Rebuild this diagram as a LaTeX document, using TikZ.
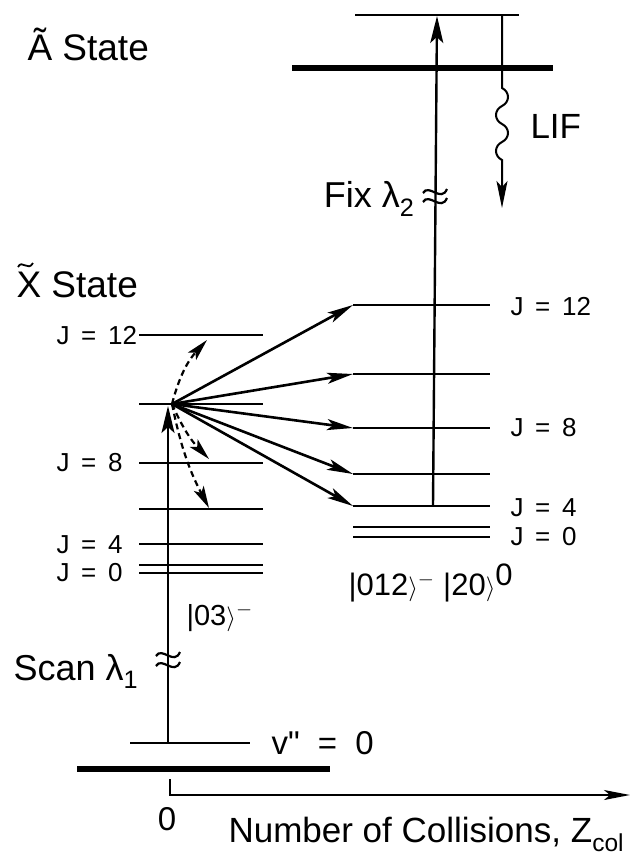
\documentclass[tikz,border=0pt]{standalone}
\usepackage{fontspec}
\setmainfont{Liberation Sans}
\usetikzlibrary{arrows.meta}
\newcommand\jfont{\fontsize{26}{28}\selectfont\spaceskip=.45em\relax}
\newcommand\bigfont{\fontsize{37}{40}\selectfont}
\newcommand\ketfont{\fontsize{31}{34}\selectfont}

\begin{document}
\begin{tikzpicture}[x=1pt,y=-1pt,
    level/.style={line width=2.4pt},
    thicklevel/.style={line width=6pt},
    uparr/.style={line width=2.4pt,-{Stealth[length=27pt,width=13pt,inset=6pt]}},
    colarr/.style={line width=2.6pt,-{Stealth[length=26pt,width=11pt,inset=6pt]}},
    dasharr/.style={line width=2.2pt,dash pattern=on 6pt off 4pt,
                    -{Stealth[length=22pt,width=11pt,inset=5pt]}},
    brk/.style={line width=2.2pt},
    jlab/.style={anchor=west,font=\jfont},
    biglab/.style={anchor=base west,font=\bigfont},
    ketlab/.style={anchor=base west,font=\ketfont},
  ]
  \useasboundingbox (0,0) rectangle (634,865);

  % A state
  \draw[level] (355,15) -- (519,15);
  \draw[thicklevel] (292,68) -- (553,68);
  \node[biglab] (Astate) at (24,60) {Ã State};

  % X state, left ladder
  \node[biglab] (Xstate) at (13,297) {X State};
  \draw[line width=1.8pt] (18,267) .. controls (22,259) and (28,272) .. (33,263);
  \foreach \n/\y in {12/335,10/404,8/463,6/509,4/544,2/565,0/573}{
    \draw[level] (139,\y) -- (263,\y);
    \coordinate (L\n) at (172,\y);
  }
  \node[jlab] (jl12) at (53,336) {J = 12};
  \node[jlab] (jl8)  at (53,463) {J = 8};
  \node[jlab] (jl4)  at (53,545) {J = 4};
  \node[jlab] (jl0)  at (53,573) {J = 0};

  % right ladder after collisions
  \foreach \n/\y in {12/305,10/374,8/428,6/474,4/506,2/527,0/537}{
    \draw[level] (353,\y) -- (490,\y);
    \coordinate (R\n) at (353,\y);
  }
  \node[jlab] (jr12) at (507,307) {J = 12};
  \node[jlab] (jr8)  at (507,428) {J = 8};
  \node[jlab] (jr4)  at (507,508) {J = 4};
  \node[jlab] (jr0)  at (507,537) {J = 0};

  % collisional transfer
  \foreach \n in {12,10,8,6,4}
    \draw[colarr] (L10) -- (R\n);
  \coordinate (dU)  at (207,340);
  \coordinate (dD1) at (209,459);
  \coordinate (dD2) at (209,508);
  \draw[dasharr] (L10) to[bend left=14] (dU);
  \draw[dasharr] (L10) to[bend right=10] (dD1);
  \draw[dasharr] (L10) to[bend right=8] (dD2);

  % scan laser
  \draw[level] (130,743) -- (250,743);
  \draw[thicklevel] (77,769) -- (330,769);
  \coordinate (v0) at (168,743);
  \coordinate (scanTip) at (168,406);
  \draw[uparr] (v0) -- (scanTip);
  \draw[brk] (156,656) .. controls (162,646) and (174,666) .. (180,652);
  \draw[brk] (156,666) .. controls (162,656) and (174,676) .. (180,662);
  \node[biglab,font=\fontsize{36}{40}\selectfont] (scan) at (10,680) {Scan λ\textsubscript{1}};
  \node[ketlab,font=\fontsize{29}{32}\selectfont] (ket03) at (183,625) {|03$\rangle^-$};
  \node[biglab] (vlab) at (268,754)
    {\fontsize{33}{36}\selectfont\spaceskip=.55em v\textquotedbl{} = 0};

  % probe laser
  \coordinate (fixFoot) at (433,506);
  \coordinate (fixTip) at (437,16);
  \draw[uparr] (fixFoot) -- (fixTip);
  \draw[brk] (423,193) .. controls (429,183) and (441,203) .. (447,189);
  \draw[brk] (423,202) .. controls (429,192) and (441,212) .. (447,198);
  \node[biglab,anchor=base east,font=\fontsize{36}{40}\selectfont] (fix) at (418,207) {Fix λ\textsubscript{2}};
  \node[ketlab] (ket012) at (345,595) {|012$\rangle^-$ |20$\rangle^{\mbox{0}}$};

  % fluorescence
  \coordinate (lifTop) at (502,15);
  \coordinate (lifEnd) at (502,208);
  \draw[line width=2pt,-{Stealth[length=27pt,width=11pt,inset=6pt]}]
    (lifTop) -- (502,88)
    .. controls (510,92) and (510,102) .. (502,106)
    .. controls (494,110) and (494,120) .. (502,124)
    .. controls (510,128) and (510,138) .. (502,142)
    .. controls (494,146) and (494,156) .. (502,160) -- (lifEnd);
  \node[biglab,font=\fontsize{35}{38}\selectfont] (lif) at (527,138) {LIF};

  % collision axis
  \coordinate (axO) at (170,779);
  \coordinate (axEnd) at (630,795);
  \draw[line width=1.8pt,-{Stealth[length=26pt,width=10pt,inset=6pt]}] (axO) |- (axEnd);
  \node[biglab,anchor=base,font=\fontsize{33}{36}\selectfont] (zero) at (167,830) {0};
  \node[biglab,font=\fontsize{35}{38}\selectfont] (axlab) at (225,842)
    {Number of Collisions, Z\textsubscript{col}};
\end{tikzpicture}
\end{document}
